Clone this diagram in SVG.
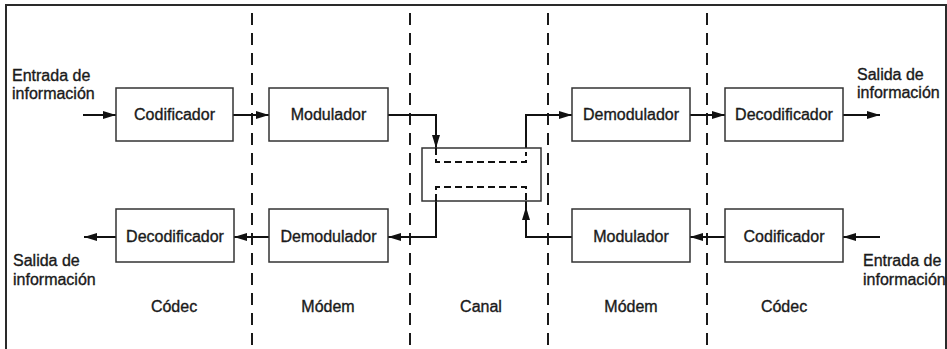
<svg xmlns="http://www.w3.org/2000/svg" width="947" height="349" viewBox="0 0 947 349">
  <style>
    .frame { fill: none; stroke: #2a2a2a; stroke-width: 2; }
    .divider { fill: none; stroke: #1a1a1a; stroke-width: 2; stroke-dasharray: 12 8; }
    .box { fill: #fff; stroke: #333; stroke-width: 1.5; }
    .wire { fill: none; stroke: #111; stroke-width: 2; }
    .arrow { marker-end: url(#head); }
    .path { fill: none; stroke: #111; stroke-width: 2; stroke-dasharray: 7 4; }
    text { font-family: "Liberation Sans", Arial, Helvetica, sans-serif; font-size: 16px; fill: #1a1a1a; stroke: #1a1a1a; stroke-width: 0.35; }
    .mid { text-anchor: middle; }
  </style>
  <defs>
    <marker id="head" markerUnits="userSpaceOnUse" markerWidth="14" markerHeight="9" refX="13" refY="4.5" orient="auto">
      <path d="M0,0.5 L13,4.5 L0,8.5 z" fill="#111"/>
    </marker>
  </defs>

  <rect width="947" height="349" fill="#fff"/>

  <!-- outer frame (bottom edge is open) -->
  <path class="frame" d="M6,349 V5 H946 V349"/>

  <!-- section dividers -->
  <g id="dividers">
    <line class="divider" x1="252" y1="13" x2="252" y2="349"/>
    <line class="divider" x1="410" y1="13" x2="410" y2="349"/>
    <line class="divider" x1="548" y1="13" x2="548" y2="349"/>
    <line class="divider" x1="707" y1="13" x2="707" y2="349"/>
  </g>

  <!-- connectors -->
  <g id="connectors">
    <path class="wire arrow" d="M83,115 H116"/>
    <path class="wire arrow" d="M233,115 H269"/>
    <path class="wire arrow" d="M388,115 H436 V148"/>
    <path class="wire arrow" d="M526,152 V115 H572"/>
    <path class="wire arrow" d="M690,115 H725"/>
    <path class="wire arrow" d="M843,115 H880"/>

    <path class="wire arrow" d="M880,237 H843"/>
    <path class="wire arrow" d="M725,237 H690"/>
    <path class="wire arrow" d="M572,237 H526 V207"/>
    <path class="wire" d="M526,207 V199"/>
    <path class="wire arrow" d="M436,199 V237 H388"/>
    <path class="wire arrow" d="M269,237 H234"/>
    <path class="wire arrow" d="M116,237 H84"/>
  </g>

  <!-- channel -->
  <g id="canal">
    <rect class="box" x="422" y="148" width="119" height="53"/>
    <path class="path" d="M436,148 V162 H526 V152"/>
    <path class="path" d="M436,201 V187 H526 V201"/>
  </g>

  <!-- transmit chain -->
  <g id="codificador-tx">
    <rect class="box" x="116" y="88" width="117" height="53"/>
    <text class="mid" x="174.5" y="120">Codificador</text>
  </g>
  <g id="modulador-tx">
    <rect class="box" x="269" y="88" width="119" height="53"/>
    <text class="mid" x="328.5" y="120">Modulador</text>
  </g>
  <g id="demodulador-rx">
    <rect class="box" x="572" y="88" width="118" height="53"/>
    <text class="mid" x="631" y="120">Demodulador</text>
  </g>
  <g id="decodificador-rx">
    <rect class="box" x="725" y="88" width="118" height="53"/>
    <text class="mid" x="784" y="120">Decodificador</text>
  </g>

  <!-- return chain -->
  <g id="decodificador-tx">
    <rect class="box" x="116" y="209" width="118" height="53"/>
    <text class="mid" x="175" y="242">Decodificador</text>
  </g>
  <g id="demodulador-tx">
    <rect class="box" x="269" y="209" width="119" height="53"/>
    <text class="mid" x="328.5" y="242">Demodulador</text>
  </g>
  <g id="modulador-rx">
    <rect class="box" x="572" y="209" width="118" height="53"/>
    <text class="mid" x="631" y="242">Modulador</text>
  </g>
  <g id="codificador-rx">
    <rect class="box" x="725" y="209" width="118" height="53"/>
    <text class="mid" x="784" y="242">Codificador</text>
  </g>

  <!-- terminal labels -->
  <g id="labels">
    <text x="12" y="81">Entrada de</text>
    <text x="12" y="99">información</text>
    <text x="857" y="80">Salida de</text>
    <text x="857" y="98">información</text>
    <text x="13" y="266">Salida de</text>
    <text x="13" y="285">información</text>
    <text x="863" y="266">Entrada de</text>
    <text x="863" y="285">información</text>

    <text class="mid" x="174" y="312">Códec</text>
    <text class="mid" x="328" y="312">Módem</text>
    <text class="mid" x="481" y="312">Canal</text>
    <text class="mid" x="631" y="312">Módem</text>
    <text class="mid" x="784" y="312">Códec</text>
  </g>
</svg>
